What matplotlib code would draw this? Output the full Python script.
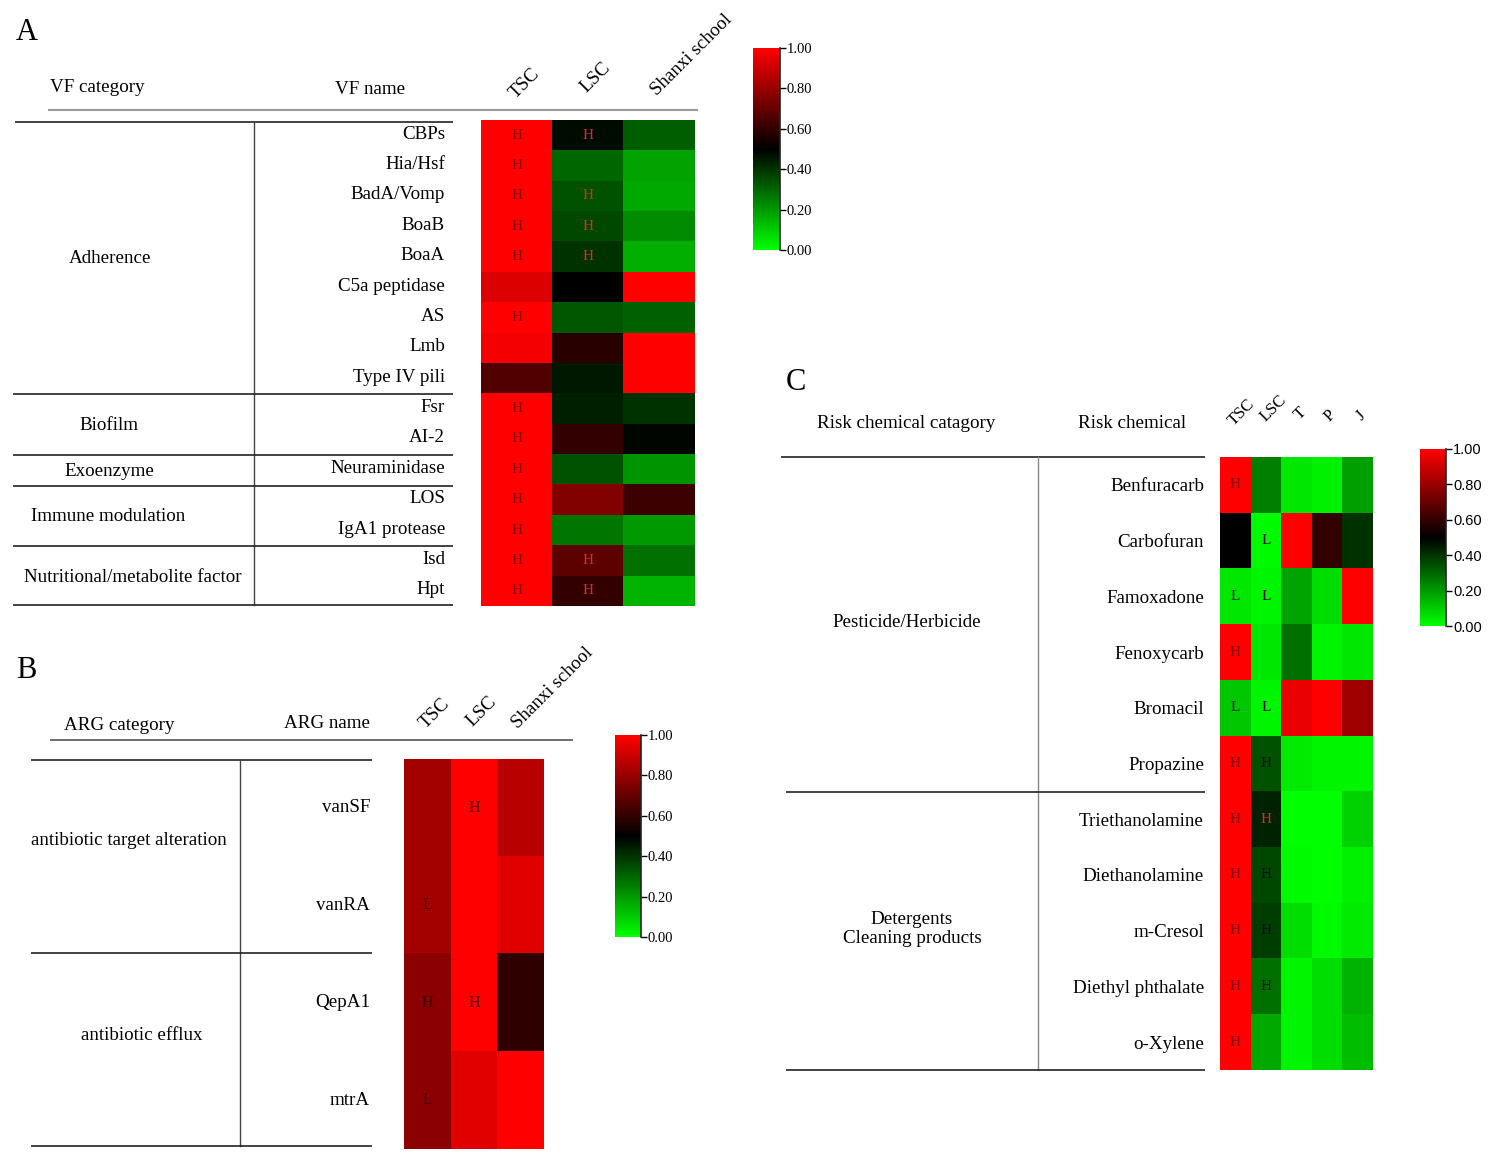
import numpy as np
import matplotlib
matplotlib.use("Agg")
import matplotlib.pyplot as plt
from matplotlib.colors import LinearSegmentedColormap

W, H = 1492, 1159
SERIF = "Liberation Serif"
plt.rcParams['font.family'] = SERIF

# ---------------- data ----------------
# panel A: virulence factors
vf_names = ["CBPs", "Hia/Hsf", "BadA/Vomp", "BoaB", "BoaA", "C5a peptidase", "AS",
            "Lmb", "Type IV pili", "Fsr", "AI-2", "Neuraminidase", "LOS",
            "IgA1 protease", "Isd", "Hpt"]
vf_cols = ["TSC", "LSC", "Shanxi school"]
vf_tsc = [1.0, 1.0, 1.0, 1.0, 1.0, 0.93, 1.0, 0.98, 0.66, 1.0, 1.0, 1.0, 1.0, 1.0, 1.0, 1.0]
vf_lsc = [0.48, 0.30, 0.34, 0.36, 0.40, 0.50, 0.33, 0.58, 0.45, 0.44, 0.60, 0.34, 0.75, 0.27, 0.68, 0.60]
vf_shx = [0.32, 0.18, 0.17, 0.23, 0.16, 1.0, 0.31, 1.0, 1.0, 0.40, 0.49, 0.21, 0.62, 0.20, 0.28, 0.15]
vf_tsc_lab = ["H", "H", "H", "H", "H", "", "H", "", "", "H", "H", "H", "H", "H", "H", "H"]
vf_lsc_lab = ["H", "", "H", "H", "H", "", "", "", "", "", "", "", "", "", "H", "H"]
vf_groups = ["Adherence", "Biofilm", "Exoenzyme", "Immune modulation",
             "Nutritional/metabolite factor"]
vf_group_sizes = [9, 2, 1, 2, 2]

# panel B: antibiotic resistance genes
arg_names = ["vanSF", "vanRA", "QepA1", "mtrA"]
arg_cols = ["TSC", "LSC", "Shanxi school"]
arg_tsc = [0.82, 0.82, 0.77, 0.77]
arg_lsc = [1.0, 1.0, 1.0, 0.94]
arg_shx = [0.86, 0.94, 0.59, 1.0]
arg_tsc_lab = ["", "L", "H", "L"]
arg_lsc_lab = ["H", "", "H", ""]
arg_groups = ["antibiotic target alteration", "antibiotic efflux"]
arg_group_sizes = [2, 2]

# panel C: risk chemicals
rc_names = ["Benfuracarb", "Carbofuran", "Famoxadone", "Fenoxycarb", "Bromacil",
            "Propazine", "Triethanolamine", "Diethanolamine", "m-Cresol",
            "Diethyl phthalate", "o-Xylene"]
rc_cols = ["TSC", "LSC", "T", "P", "J"]
rc_tsc = [1.0, 0.50, 0.05, 1.0, 0.11, 1.0, 1.0, 1.0, 1.0, 1.0, 1.0]
rc_lsc = [0.25, 0.01, 0.02, 0.05, 0.02, 0.34, 0.43, 0.36, 0.38, 0.28, 0.17]
rc_t = [0.05, 1.0, 0.18, 0.28, 0.96, 0.04, 0.0, 0.01, 0.07, 0.02, 0.02]
rc_p = [0.03, 0.60, 0.07, 0.02, 1.0, 0.02, 0.0, 0.0, 0.01, 0.07, 0.07]
rc_j = [0.19, 0.40, 1.0, 0.05, 0.81, 0.02, 0.09, 0.03, 0.04, 0.15, 0.13]
rc_tsc_lab = ["H", "", "L", "H", "L", "H", "H", "H", "H", "H", "H"]
rc_lsc_lab = ["", "L", "L", "", "L", "H", "H", "H", "H", "H", ""]
rc_groups = ["Pesticide/Herbicide", "Detergents\nCleaning products"]
rc_group_sizes = [6, 5]

cmap = LinearSegmentedColormap.from_list("gkr", ["#00ff00", "#000000", "#ff0000"])

fig = plt.figure(figsize=(W / 100, H / 100), dpi=100)
fig.patch.set_facecolor("white")

ov = fig.add_axes([0, 0, 1, 1])
ov.set_xlim(0, W)
ov.set_ylim(H, 0)
ov.set_axis_off()
ov.patch.set_alpha(0)


def box(x0, y0, x1, y1):
    return [x0 / W, 1 - y1 / H, (x1 - x0) / W, (y1 - y0) / H]


def heat(rect, cols, labels, lab_colors, fs=11):
    ax = fig.add_axes(box(*rect))
    data = np.array(cols).T
    ax.imshow(data, cmap=cmap, vmin=0, vmax=1, aspect='auto', interpolation='nearest')
    ax.set_axis_off()
    for j, labs in labels.items():
        for i, s in enumerate(labs):
            if s:
                c = lab_colors(i, j)
                ax.text(j, i, s, ha='center', va='center', fontsize=fs, color=c)
    return ax


def cbar(rect, tickfont):
    cax = fig.add_axes(box(*rect))
    sm = plt.cm.ScalarMappable(cmap=cmap, norm=plt.Normalize(0, 1))
    cb = fig.colorbar(sm, cax=cax, ticks=[0, 0.2, 0.4, 0.6, 0.8, 1.0])
    cb.outline.set_visible(False)
    cb.ax.set_yticklabels(["0.00", "0.20", "0.40", "0.60", "0.80", "1.00"],
                          fontfamily=tickfont, fontsize=10.5)
    cb.ax.tick_params(length=4, width=1, pad=1)
    cb.ax.axvline(1.0, color='#222222', lw=1.2, clip_on=False)
    return cb


def hline(x0, x1, y, color='#222222', lw=1.2):
    ov.plot([x0, x1], [y, y], color=color, lw=lw, solid_capstyle='butt')


def vline(x, y0, y1, color='#444444', lw=1.0):
    ov.plot([x, x], [y0, y1], color=color, lw=lw)


FS = 13.7

# ---------------- panel A ----------------
ov.text(16, 32, "A", fontsize=22, va='center', ha='left')
ov.text(50, 87, "VF category", fontsize=FS, va='center')
ov.text(335, 89, "VF name", fontsize=FS, va='center')
for name, (x, y) in zip(vf_cols, [(525, 84), (596, 78), (692, 55)]):
    ov.text(x, y, name, fontsize=FS, rotation=45, ha='center', va='center')
hline(48, 698, 110, color='#9a9a9a', lw=1.5)

a_top, a_bot = 120, 606
a_rh = (a_bot - a_top) / len(vf_names)
hline(15, 453, 122)
vline(254, 122, 605)
start = 0
a_group_x = [69, 79, 64, 31, 24]
for g, n, gx in zip(vf_groups, vf_group_sizes, a_group_x):
    yc = a_top + a_rh * (start + n / 2)
    ov.text(gx, yc + 2, g, fontsize=FS, va='center', ha='left')
    start += n
    hline(13, 453, a_top + a_rh * start + (1 if start < len(vf_names) else -1))
for i, nm in enumerate(vf_names):
    ov.text(445, a_top + a_rh * (i + 0.5) - 1, nm, fontsize=FS, ha='right', va='center')


def a_col(i, j):
    return '#8a0000' if j == 0 else '#d03030'


heat((481, a_top, 695, a_bot), [vf_tsc, vf_lsc, vf_shx], {0: vf_tsc_lab, 1: vf_lsc_lab}, a_col)
cbar((753, 48, 780, 250), SERIF)

# ---------------- panel B ----------------
ov.text(16, 670, "B", fontsize=22, va='center', ha='left')
ov.text(64, 725, "ARG category", fontsize=FS, va='center')
ov.text(284, 724, "ARG name", fontsize=FS, va='center')
for name, (x, y) in zip(arg_cols, [(435, 714), (482, 712), (553, 688)]):
    ov.text(x, y, name, fontsize=FS, rotation=45, ha='center', va='center')
hline(50, 573, 740, color='#555555', lw=1.2)

b_top, b_bot = 759, 1149
b_rh = (b_bot - b_top) / len(arg_names)
hline(31, 372, 760)
vline(240, 760, 1146)
start = 0
for g, n, gx in zip(arg_groups, arg_group_sizes, [31, 81]):
    yc = b_top + b_rh * (start + n / 2)
    ov.text(gx, yc - 16, g, fontsize=FS, va='center', ha='left')
    start += n
    hline(31, 372, b_top + b_rh * start - (1 if start < len(arg_names) else 3))
for i, nm in enumerate(arg_names):
    ov.text(370, b_top + b_rh * (i + 0.5), nm, fontsize=FS, ha='right', va='center')

heat((404, b_top, 544, b_bot), [arg_tsc, arg_lsc, arg_shx], {0: arg_tsc_lab, 1: arg_lsc_lab},
     lambda i, j: '#3a0000', fs=11.5)
cbar((615, 735, 641, 937), SERIF)

# ---------------- panel C ----------------
ov.text(786, 382, "C", fontsize=22, va='center', ha='left')
ov.text(817, 424, "Risk chemical catagory", fontsize=FS, va='center')
ov.text(1078, 424, "Risk chemical", fontsize=FS, va='center')
for name, (x, y) in zip(rc_cols, [(1242, 412), (1273, 408), (1301, 414), (1330, 416), (1361, 416)]):
    ov.text(x, y, name, fontsize=12, rotation=45, ha='center', va='center')

c_top, c_bot = 457, 1070
c_rh = (c_bot - c_top) / len(rc_names)
hline(781, 1205, 457)
vline(1038, 457, 1070, color='#888888')
start = 0
for g, n, gx in zip(rc_groups, rc_group_sizes, [907, 912]):
    yc = c_top + c_rh * (start + n / 2)
    ov.text(gx, yc - 2, g, fontsize=FS, va='center', ha='center', linespacing=1.15)
    start += n
    hline(786, 1205, c_top + c_rh * start + (1 if start < len(rc_names) else 0))
for i, nm in enumerate(rc_names):
    ov.text(1204, c_top + c_rh * (i + 0.5) + 2, nm, fontsize=FS, ha='right', va='center')


def c_col(i, j):
    if j == 0:
        return '#8a0000' if rc_tsc[i] > 0.5 else '#0a1a0a'
    if rc_names[i] == "Triethanolamine":
        return '#d03030'
    return '#0a0a0a'


heat((1220, c_top, 1373, c_bot), [rc_tsc, rc_lsc, rc_t, rc_p, rc_j],
     {0: rc_tsc_lab, 1: rc_lsc_lab}, c_col)
cbar((1420, 449, 1446, 626), "Liberation Sans")

fig.savefig("out.png", dpi=100, facecolor="white")
